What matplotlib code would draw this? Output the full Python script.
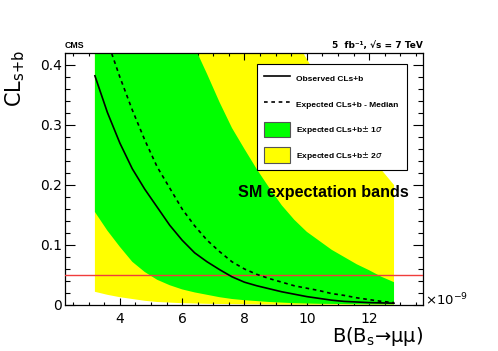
import matplotlib
matplotlib.use("Agg")
import matplotlib.pyplot as plt
from matplotlib.lines import Line2D
from matplotlib.patches import Patch
from matplotlib.ticker import MultipleLocator, FuncFormatter

# branching fraction scan points (units of 1e-9)
bf = [3.2, 3.6, 4.0, 4.4, 4.8, 5.2, 5.6, 6.0, 6.4, 6.8, 7.2, 7.6, 8.0,
      8.4, 8.8, 9.2, 9.6, 10.0, 10.4, 10.8, 11.2, 11.6, 12.0, 12.4, 12.8]

observed = [0.382, 0.321, 0.270, 0.227, 0.193, 0.163, 0.133, 0.108, 0.087,
            0.072, 0.059, 0.047, 0.038, 0.032, 0.027, 0.022, 0.018, 0.014,
            0.011, 0.008, 0.006, 0.005, 0.004, 0.0035, 0.003]
expected = [0.500, 0.440, 0.380, 0.325, 0.275, 0.230, 0.195, 0.160, 0.132,
            0.108, 0.089, 0.072, 0.060, 0.051, 0.044, 0.038, 0.032, 0.028,
            0.024, 0.019, 0.016, 0.012, 0.009, 0.006, 0.004]

sig1_hi = [1.20, 1.05, 0.93, 0.82, 0.72, 0.64, 0.58, 0.48, 0.43,
           0.385, 0.338, 0.295, 0.260, 0.226, 0.195, 0.166, 0.142, 0.122,
           0.107, 0.092, 0.080, 0.068, 0.058, 0.047, 0.038]
sig1_lo = [0.155, 0.124, 0.097, 0.072, 0.055, 0.042, 0.033, 0.026, 0.021,
           0.017, 0.013, 0.010, 0.008, 0.0065, 0.005, 0.004, 0.003, 0.0025,
           0.002, 0.0018, 0.0015, 0.0012, 0.001, 0.001, 0.001]
sig2_hi = [2.5, 2.2, 1.95, 1.7, 1.5, 1.3, 1.15, 1.02, 0.92,
           0.83, 0.75, 0.68, 0.62, 0.57, 0.53, 0.485, 0.445, 0.41,
           0.375, 0.34, 0.31, 0.28, 0.25, 0.225, 0.20]
sig2_lo = [0.022, 0.017, 0.013, 0.010, 0.007, 0.005, 0.004, 0.003, 0.0025,
           0.002, 0.0017, 0.0015, 0.0012, 0.001, 0.0008, 0.0005, 0.0005, 0.0005,
           0.0005, 0.0005, 0.0005, 0.0005, 0.0005, 0.0005, 0.0005]

cl_line = 0.05

fig = plt.figure(figsize=(4.98, 3.51), dpi=100)
ax = fig.add_axes([65 / 498, 1 - 305 / 351, 358 / 498, 252 / 351])

ax.fill_between(bf, sig2_lo, sig2_hi, color="#ffff00", lw=0, zorder=1)
ax.fill_between(bf, sig1_lo, sig1_hi, color="#00ff00", lw=0, zorder=2)
ax.axhline(cl_line, color="#f03c3c", lw=1.0, zorder=3)
ax.plot(bf, observed, color="black", lw=1.2, zorder=4)
ax.plot(bf, expected, color="black", lw=1.2, ls=(0, (2.2, 2.2)), zorder=4)

ax.set_xlim(2.24, 13.73)
ax.set_ylim(0, 0.42)
ax.xaxis.set_major_locator(MultipleLocator(2))
ax.xaxis.set_minor_locator(MultipleLocator(0.5))
ax.yaxis.set_major_locator(MultipleLocator(0.1))
ax.yaxis.set_minor_locator(MultipleLocator(0.02))
ax.yaxis.set_major_formatter(FuncFormatter(
    lambda v, p: "0" if abs(v) < 1e-9 else f"{v:.1f}"))
ax.tick_params(which="both", direction="in", top=True, right=True,
               labelsize=10, width=0.8)
ax.tick_params(axis="x", which="major", length=5, pad=5)
ax.tick_params(axis="x", which="minor", length=2.5)
ax.tick_params(axis="y", which="major", length=7, pad=2)
ax.tick_params(axis="y", which="minor", length=3.5)
for s in ax.spines.values():
    s.set_linewidth(0.9)

handles = [
    Line2D([], [], color="black", lw=1.2),
    Line2D([], [], color="black", lw=1.2, ls=(0, (2.2, 2.2))),
    Patch(facecolor="#00ff00", edgecolor="#555555", lw=0.8),
    Patch(facecolor="#ffff00", edgecolor="#555555", lw=0.8),
]
labels = ["Observed CLs+b", "Expected CLs+b - Median",
          "Expected CLs+b$\\pm$ 1$\\sigma$", "Expected CLs+b$\\pm$ 2$\\sigma$"]
leg = ax.legend(handles, labels, loc="upper left", mode="expand",
                bbox_to_anchor=((257 - 65) / 358, 0.3, 150 / 358, (305 - 64) / 252 - 0.3),
                prop={"family": "Liberation Sans", "weight": "bold", "size": 6},
                fancybox=False, framealpha=1, edgecolor="black",
                handlelength=3.1, handleheight=2.4, labelspacing=1.25,
                handletextpad=0.7, borderpad=0.85, borderaxespad=0)
leg.get_frame().set_linewidth(0.8)
leg.set_zorder(10)

fig.text(238 / 498, 1 - 193 / 351, "SM expectation bands", ha="left", va="center",
         family="Liberation Sans", weight="bold", fontsize=11.6)

fig.text(65 / 498, 1 - 48 / 351, "CMS", ha="left", va="baseline",
         family="Liberation Sans", weight="bold", fontsize=6.3)
fig.text(423 / 498, 1 - 48 / 351, "5  fb\u207b\u00b9, \u221as = 7 TeV", ha="right",
         va="baseline", family="DejaVu Sans", weight="bold", fontsize=6.5)

fig.text(15 / 498, 1 - 50 / 351, r"CL$_{\rm s{+}b}$", rotation=90, ha="center",
         va="top", fontsize=15)
fig.text(423 / 498, 1 - 348 / 351, "B(B$_{\\rm s}$\u2192\u03bc\u03bc)",
         ha="right", va="bottom", fontsize=14)
fig.text(425 / 498, 1 - 305 / 351, r"$\times$10$^{-9}$", ha="left",
         va="baseline", fontsize=9.5)

fig.savefig("out.png", dpi=100)
